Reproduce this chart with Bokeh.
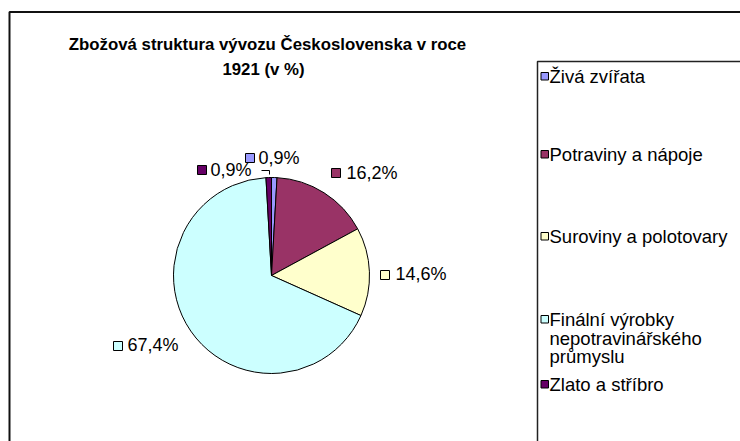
import math
from bokeh.plotting import figure
from bokeh.models import Range1d, ColumnDataSource
from bokeh.core.properties import value
from bokeh.embed import file_html
from bokeh.resources import INLINE

# ---- data ----
title_lines = ["Zbožová struktura vývozu Československa v roce", "1921 (v %)"]
categories = ["Živá zvířata", "Potraviny a nápoje", "Suroviny a polotovary",
              "Finální výrobky nepotravinářského průmyslu", "Zlato a stříbro"]
legend_lines = [["Živá zvířata"], ["Potraviny a nápoje"], ["Suroviny a polotovary"],
                ["Finální výrobky", "nepotravinářského", "průmyslu"], ["Zlato a stříbro"]]
shares = [0.9, 16.2, 14.6, 67.4, 0.9]
colors = ["#9999FF", "#993366", "#FFFFCC", "#CCFFFF", "#660066"]

FONT = "Liberation Sans"
W, H = 740, 441
DY = 6  # baseline correction

def Y(sy):
    return H - sy

p = figure(width=W, height=H, x_range=Range1d(0, W), y_range=Range1d(0, H),
           output_backend="svg", toolbar_location=None, min_border=0)
p.axis.visible = False
p.grid.visible = False
p.outline_line_color = None
p.background_fill_color = "white"

# outer chart frame
p.quad(left=[9], right=[800], top=[Y(11.5)], bottom=[-50],
       fill_color=None, line_color="#111111", line_width=2)

# pie
cx, cy, r = 271, 275, 98
total = sum(shares)
starts, ends = [], []
cum = 0.0
for s in shares:
    a0 = math.pi / 2 - cum / total * 2 * math.pi
    cum += s
    a1 = math.pi / 2 - cum / total * 2 * math.pi
    starts.append(a0)
    ends.append(a1)
src = ColumnDataSource(dict(x=[cx] * len(shares), y=[Y(cy)] * len(shares),
                            start=starts, end=ends, color=colors))
p.wedge(x="x", y="y", radius=r, radius_units="screen", start_angle="start",
        end_angle="end", direction="clock", fill_color="color",
        line_color="black", line_width=1, source=src)

# data labels (layout positions: marker left, marker top, text left, baseline)
lab_pos = [(245, 153, 258, 163), (331, 168, 346, 178), (380, 270, 395, 279),
           (113, 341, 127, 350), (197, 165, 210, 175)]
lab_text = [("%.1f%%" % s).replace(".", ",") for s in shares]
ms = 9
for (mx, my, tx, ty), t, c in zip(lab_pos, lab_text, colors):
    p.quad(left=[mx], right=[mx + ms], top=[Y(my)], bottom=[Y(my + ms)],
           fill_color=c, line_color="black", line_width=1)
    p.text(x=[tx], y=[Y(ty - DY)], text=[t], text_font=value(FONT),
           text_font_size="18px", text_baseline="alphabetic", text_color="black")

# leader line for the small slice
p.line(x=[261, 269, 269], y=[Y(170), Y(170), Y(174)], line_color="black", line_width=1)

# title
p.text(x=[267, 263], y=[Y(50 - DY), Y(75 - DY)], text=title_lines, text_font=value(FONT),
       text_font_size="16.8px", text_font_style="bold", text_align="center",
       text_baseline="alphabetic", text_color="black")

# legend
p.quad(left=[537], right=[800], top=[Y(61)], bottom=[-50],
       fill_color="white", line_color="#222222", line_width=1.5)
leg_base = [82, 160, 242, 325, 390]
for lines, c, b in zip(legend_lines, colors, leg_base):
    p.quad(left=[540.5], right=[548], top=[Y(b - 10)], bottom=[Y(b - 2.5)],
           fill_color=c, line_color="black", line_width=1)
    for i, ln in enumerate(lines):
        p.text(x=[549], y=[Y(b + i * 18.5 - DY)], text=[ln], text_font=value(FONT),
               text_font_size="18.5px", text_baseline="alphabetic", text_color="black")

open("out.html", "w").write(file_html(p, INLINE))
